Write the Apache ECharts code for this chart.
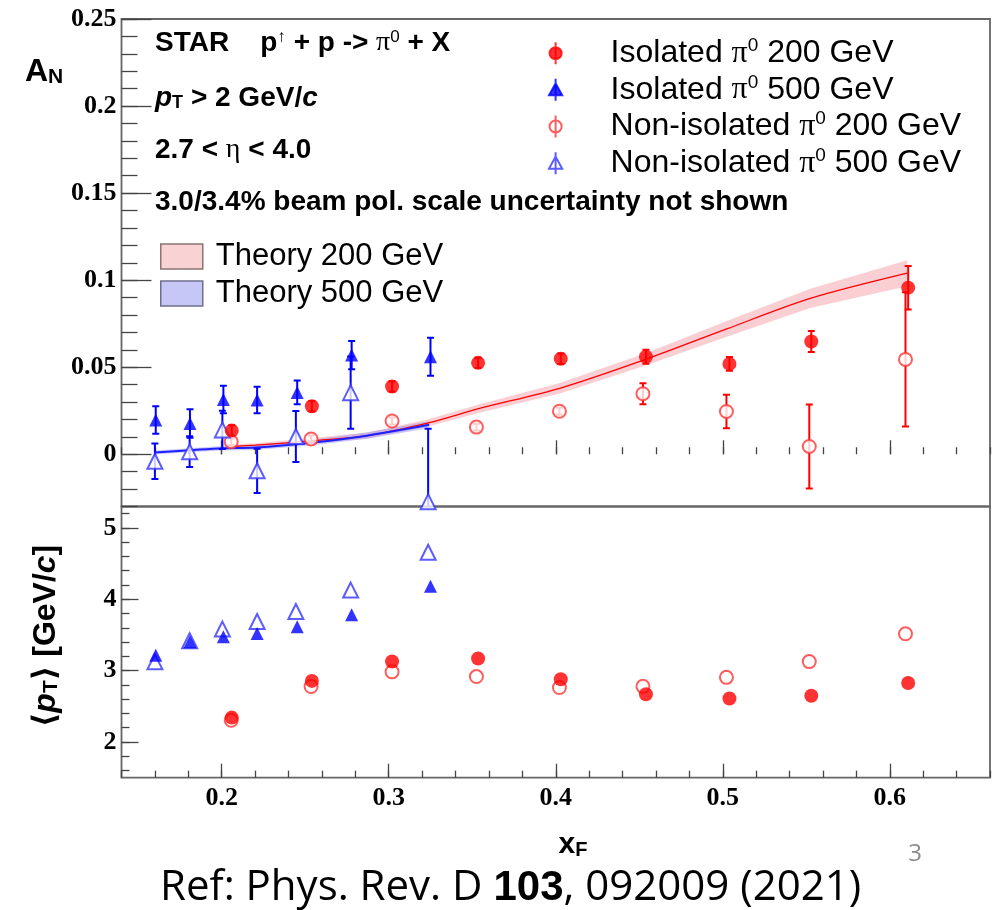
<!DOCTYPE html>
<html>
<head>
<meta charset="utf-8">
<script src="https://cdn.jsdelivr.net/npm/echarts@6/dist/echarts.min.js"></script>
<style>
  html, body { margin: 0; padding: 0; background: #fff; }
  #chart { width: 999px; height: 910px; }
</style>
</head>
<body>
<div id="chart"></div>
<script>
  // values (x_F, A_N, <pT>)
  const iso200X = [0.206, 0.254, 0.302, 0.3535, 0.403, 0.454, 0.504, 0.553, 0.611];
  const iso200A = [0.0136, 0.0276, 0.0389, 0.0525, 0.0549, 0.0560, 0.0519, 0.0648, 0.0957];
  const iso200AErr = [0.003, 0.003, 0.003, 0.003, 0.003, 0.004, 0.004, 0.006, 0.0125];
  const iso200PT = [2.342, 2.856, 3.128, 3.17, 2.88, 2.67, 2.61, 2.648, 2.826];

  const non200X = [0.2057, 0.2535, 0.302, 0.3525, 0.4022, 0.4522, 0.5022, 0.5518, 0.6094];
  const non200A = [0.0072, 0.0088, 0.0191, 0.0156, 0.0247, 0.0348, 0.0246, 0.0045, 0.0545];
  const non200AErr = [0.002, 0.002, 0.002, 0.002, 0.002, 0.006, 0.0096, 0.0241, 0.0385];
  const non200PT = [2.304, 2.777, 2.983, 2.917, 2.763, 2.78, 2.906, 3.127, 3.516];

  const iso500X = [0.1605, 0.181, 0.201, 0.2212, 0.2452, 0.2778, 0.325];
  const iso500A = [0.0197, 0.0177, 0.0315, 0.0312, 0.0355, 0.057, 0.056];
  const iso500AErr = [0.0079, 0.0082, 0.0079, 0.0076, 0.0068, 0.0081, 0.0109];
  const iso500PT = [3.217, 3.404, 3.474, 3.521, 3.614, 3.783, 4.181];

  const non500X = [0.16, 0.1808, 0.2004, 0.2212, 0.2444, 0.2772, 0.3236];
  const non500A = [-0.004, 0.0015, 0.014, -0.0095, 0.0102, 0.0354, -0.0272];
  const non500AErr = [0.0102, 0.0088, 0.011, 0.0127, 0.0146, 0.0208, 0.0418];
  const non500PT = [3.123, 3.418, 3.582, 3.689, 3.829, 4.129, 4.658];

  // theory curves with half width of the band
  const th200X = [0.205, 0.2202, 0.2545, 0.2869, 0.3232, 0.3544, 0.4024, 0.4538, 0.5024, 0.5524, 0.6104];
  const th200A = [0.0045, 0.0052, 0.0078, 0.0107, 0.0179, 0.0263, 0.0379, 0.0545, 0.072, 0.0895, 0.104];
  const th200Err = [0.001, 0.0012, 0.0015, 0.0018, 0.002, 0.0025, 0.003, 0.0035, 0.0045, 0.0055, 0.0075];

  const th500X = [0.16, 0.1808, 0.2004, 0.2202, 0.2545, 0.2869, 0.3242];
  const th500A = [0.001, 0.0023, 0.0035, 0.0039, 0.0068, 0.0107, 0.0169];
  const th500Err = [0.0012, 0.0012, 0.0013, 0.0014, 0.0016, 0.0018, 0.002];

  // tick labels
  const xTickLabels = [0.2, 0.3, 0.4, 0.5, 0.6];
  const anTickLabels = [0, 0.05, 0.1, 0.15, 0.2, 0.25];
  const ptTickLabels = [2, 3, 4, 5];

  const NAME_I200 = 'Isolated π0 200 GeV';
  const NAME_I500 = 'Isolated π0 500 GeV';
  const NAME_N200 = 'Non-isolated π0 200 GeV';
  const NAME_N500 = 'Non-isolated π0 500 GeV';

  const RED = '#ff0000', BLUE = '#0000ff';
  const RED_OPEN = '#ff3535', BLUE_OPEN = '#3535ff';
  const SANS = '"Liberation Sans", "DejaVu Sans", sans-serif';
  const SERIF = '"Liberation Serif", "DejaVu Serif", serif';

  function steps(from, to, step) {
    const out = [];
    for (let v = from; v <= to + 1e-9; v += step) out.push(+v.toFixed(4));
    return out;
  }
  const xMinor = steps(0.14, 0.66, 0.02);
  const anMinor = steps(-0.03, 0.25, 0.01);
  const ptMinor = steps(1.6, 5.2, 0.2);

  function pts(xs, ys) { return xs.map((x, i) => [x, ys[i]]); }

  function errBars(name, xs, ys, es, color) {
    return {
      type: 'custom', name: name, xAxisIndex: 0, yAxisIndex: 0, clip: true, z: 4,
      encode: { x: 0, y: [1, 2] },
      data: xs.map((x, i) => [x, ys[i] - es[i], ys[i] + es[i]]),
      renderItem(params, api) {
        const lo = api.coord([api.value(0), api.value(1)]);
        const hi = api.coord([api.value(0), api.value(2)]);
        const c = 3.5;
        const st = { stroke: color, lineWidth: 2 };
        return {
          type: 'group', children: [
            { type: 'line', shape: { x1: lo[0], y1: lo[1], x2: hi[0], y2: hi[1] }, style: st },
            { type: 'line', shape: { x1: lo[0] - c, y1: lo[1], x2: lo[0] + c, y2: lo[1] }, style: st },
            { type: 'line', shape: { x1: hi[0] - c, y1: hi[1], x2: hi[0] + c, y2: hi[1] }, style: st }
          ]
        };
      }
    };
  }

  // uncertainty band: one polygon through all (x, low) / (x, high) pairs
  function band(name, xs, ys, es, color) {
    return {
      type: 'custom', name: name, xAxisIndex: 0, yAxisIndex: 0, clip: true, z: 1, silent: true,
      encode: { x: 0, y: [1, 2] },
      data: xs.map((x, i) => [x, ys[i] - es[i], ys[i] + es[i]]),
      renderItem(params, api) {
        if (params.dataIndex !== 0) return null;
        const n = params.dataInsideLength;
        const up = [], dn = [];
        for (let i = 0; i < n; i++) {
          up.push(api.coord([api.value(0, i), api.value(2, i)]));
          dn.push(api.coord([api.value(0, i), api.value(1, i)]));
        }
        return { type: 'polygon', shape: { points: up.concat(dn.reverse()) }, style: { fill: color } };
      }
    };
  }

  function richSet(f) {
    return {
      sub: { fontSize: Math.round(f * 0.66), fontWeight: 'bold', fontFamily: SANS, verticalAlign: 'bottom',
             lineHeight: Math.round(f * 0.66), padding: [Math.round(f * 0.55), 0, 0, 0] },
      sup: { fontSize: Math.round(f * 0.6), fontFamily: SANS, verticalAlign: 'top',
             lineHeight: Math.round(f * 0.6), padding: [0, 0, Math.round(f * 0.5), 0] },
      it: { fontStyle: 'italic', fontWeight: 'bold', fontSize: f, fontFamily: SANS },
      pi: { fontFamily: SERIF, fontSize: f, fontWeight: 'normal' },
      b: { fontWeight: 'bold', fontSize: f }
    };
  }

  function label(x, y, text, size, opts) {
    opts = opts || {};
    return {
      type: 'text', x: x, y: y, rotation: opts.rotation || 0, z: 50,
      style: {
        text: text, fill: opts.color || '#000',
        fontFamily: opts.family || SANS, fontSize: size, fontWeight: opts.weight || 'bold',
        align: opts.align || 'left', verticalAlign: 'middle',
        textAlign: opts.align || 'left', textVerticalAlign: 'middle',
        rich: richSet(size)
      }
    };
  }

  const chart = echarts.init(document.getElementById('chart'));

  const frame = { show: true, borderColor: '#666', borderWidth: 1.8, backgroundColor: 'transparent' };
  const tickStyle = { color: '#444', width: 1.3 };

  function xAxisOf(grid, custom, len, labels) {
    return {
      type: 'value', gridIndex: grid, min: 0.14, max: 0.66, position: 'bottom',
      axisLine: { show: false }, splitLine: { show: false },
      axisTick: { show: true, inside: true, length: len, customValues: custom, lineStyle: tickStyle },
      axisLabel: labels ? {
        show: true, customValues: xTickLabels, margin: 8, color: '#000',
        fontFamily: SERIF, fontWeight: 'bold', fontSize: 26
      } : { show: false }
    };
  }
  function yAxisOf(grid, min, max, custom, len, labels) {
    return {
      type: 'value', gridIndex: grid, min: min, max: max, position: 'left',
      axisLine: { show: false }, splitLine: { show: false },
      axisTick: { show: true, inside: true, length: len, customValues: custom, lineStyle: tickStyle },
      axisLabel: labels ? {
        show: true, customValues: labels, margin: 5, color: '#000',
        fontFamily: SERIF, fontWeight: 'bold', fontSize: 26
      } : { show: false }
    };
  }

  const markerIcon = {
    circle: 'path://M6,0V20M11.5,10A5.5,5.5 0 1 1 0.5,10A5.5,5.5 0 1 1 11.5,10Z',
    triangle: 'path://M6,0V20M6,4L12,15H0Z'
  };

  const option = {
    animation: false,
    backgroundColor: '#fff',
    grid: [
      Object.assign({ left: 121.5, top: 19, width: 868.5, height: 487.5 }, frame),
      Object.assign({ left: 121.5, top: 506.5, width: 868.5, height: 271.2 }, frame)
    ],
    xAxis: [
      xAxisOf(0, xTickLabels, 14, false),
      xAxisOf(0, xMinor, 7, false),
      xAxisOf(1, xTickLabels, 14, true),
      xAxisOf(1, xMinor, 7, false)
    ],
    yAxis: [
      yAxisOf(0, -0.03, 0.25, anTickLabels, 30, anTickLabels),
      yAxisOf(0, -0.03, 0.25, anMinor, 16, null),
      yAxisOf(1, 1.5, 5.3, ptTickLabels, 17, ptTickLabels),
      yAxisOf(1, 1.5, 5.3, ptMinor, 8, null)
    ],
    legend: [{
      selectedMode: false, orient: 'vertical', left: 548, top: 36.2, padding: 0,
      itemWidth: 100, itemHeight: 22, itemGap: 2.67, symbolKeepAspect: true,
      textStyle: { fontFamily: SANS, fontSize: 32, color: '#000', lineHeight: 34, rich: {
        pi: { fontFamily: SERIF, fontSize: 32, lineHeight: 34 },
        sup: { fontFamily: SANS, fontSize: 19, lineHeight: 19, verticalAlign: 'top', padding: [0, 0, 15, 0] }
      } },
      formatter: name => name.replace('π0', '{pi|π}{sup|0}'),
      data: [
        { name: NAME_I200, icon: markerIcon.circle, itemStyle: { color: RED, borderColor: RED, borderWidth: 2 } },
        { name: NAME_I500, icon: markerIcon.triangle, itemStyle: { color: BLUE, borderColor: BLUE, borderWidth: 2 } },
        { name: NAME_N200, icon: markerIcon.circle, itemStyle: { color: '#fff', borderColor: RED_OPEN, borderWidth: 2 } },
        { name: NAME_N500, icon: markerIcon.triangle, itemStyle: { color: '#fff', borderColor: BLUE_OPEN, borderWidth: 2 } }
      ]
    }, {
      selectedMode: false, orient: 'vertical', left: 160, top: 241, padding: 0,
      itemWidth: 58, itemHeight: 25, itemGap: 6, symbolKeepAspect: true,
      textStyle: { fontFamily: SANS, fontSize: 31, color: '#000', lineHeight: 31 },
      data: [
        { name: 'Theory 200 GeV', icon: 'path://M0,0H42V25H0Z', itemStyle: { color: '#f9d3d4', borderColor: '#8a7474', borderWidth: 1.5 } },
        { name: 'Theory 500 GeV', icon: 'path://M0,0H42V25H0Z', itemStyle: { color: '#c7c7f7', borderColor: '#6f6f8c', borderWidth: 1.5 } }
      ]
    }],
    graphic: [
      label(155, 43, 'STAR    p{sup|↑} + p -> {pi|π}{sup|0} + X', 28),
      label(155, 98, '{it|p}{sub|T} > 2 GeV/{it|c}', 28),
      label(155, 150, '2.7 < {pi|η} < 4.0', 28),
      label(155, 202, '3.0/3.4% beam pol. scale uncertainty not shown', 28),
      label(25, 72, 'A{sub|N}', 32),
      label(46, 636, '⟨{it|p}{sub|T}⟩ [GeV/{it|c}]', 32, { rotation: Math.PI / 2, align: 'center' }),
      label(573, 845, 'x{sub|F}', 30, { align: 'center' }),
      label(160, 888, 'Ref: Phys. Rev. D {b|103}, 092009 (2021)', 42,
            { family: '"Open Sans", "Noto Sans", sans-serif', weight: 'normal' }),
      label(915, 854, '3', 24, { family: '"Open Sans", sans-serif', weight: 'normal', color: '#8c8c8c', align: 'center' })
    ],
    series: [
      band('Theory 200 GeV', th200X, th200A, th200Err, 'rgba(240,140,150,0.42)'),
      band('Theory 500 GeV', th500X, th500A, th500Err, 'rgba(140,140,240,0.45)'),
      {
        type: 'line', name: 'th200 line', xAxisIndex: 0, yAxisIndex: 0, data: pts(th200X, th200A),
        symbol: 'none', smooth: 0.3, lineStyle: { color: RED, width: 1.3 }, silent: true, z: 2
      },
      {
        type: 'line', name: 'th500 line', xAxisIndex: 0, yAxisIndex: 0, data: pts(th500X, th500A),
        symbol: 'none', smooth: 0.3, lineStyle: { color: '#2020ff', width: 2 }, silent: true, z: 2
      },
      errBars('err i200', iso200X, iso200A, iso200AErr, RED),
      errBars('err n200', non200X, non200A, non200AErr, RED),
      errBars('err i500', iso500X, iso500A, iso500AErr, BLUE),
      errBars('err n500', non500X, non500A, non500AErr, BLUE),
      // A_N panel
      { type: 'scatter', name: NAME_N200, xAxisIndex: 0, yAxisIndex: 0, data: pts(non200X, non200A),
        symbol: 'emptyCircle', symbolSize: 13, itemStyle: { color: RED_OPEN, borderWidth: 2 }, z: 5 },
      { type: 'scatter', name: NAME_N500, xAxisIndex: 0, yAxisIndex: 0, data: pts(non500X, non500A),
        symbol: 'emptyTriangle', symbolSize: 15, itemStyle: { color: BLUE_OPEN, borderWidth: 2 }, z: 5 },
      { type: 'scatter', name: NAME_I200, xAxisIndex: 0, yAxisIndex: 0, data: pts(iso200X, iso200A),
        symbol: 'circle', symbolSize: 14, itemStyle: { color: RED }, z: 6 },
      { type: 'scatter', name: NAME_I500, xAxisIndex: 0, yAxisIndex: 0, data: pts(iso500X, iso500A),
        symbol: 'triangle', symbolSize: 13, itemStyle: { color: BLUE }, z: 6 },
      // <pT> panel
      { type: 'scatter', name: NAME_N200, xAxisIndex: 2, yAxisIndex: 2, data: pts(non200X, non200PT),
        symbol: 'emptyCircle', symbolSize: 13, itemStyle: { color: RED_OPEN, borderWidth: 2 }, z: 5 },
      { type: 'scatter', name: NAME_N500, xAxisIndex: 2, yAxisIndex: 2, data: pts(non500X, non500PT),
        symbol: 'emptyTriangle', symbolSize: 15, itemStyle: { color: BLUE_OPEN, borderWidth: 2 }, z: 5 },
      { type: 'scatter', name: NAME_I200, xAxisIndex: 2, yAxisIndex: 2, data: pts(iso200X, iso200PT),
        symbol: 'circle', symbolSize: 14, itemStyle: { color: RED }, z: 6 },
      { type: 'scatter', name: NAME_I500, xAxisIndex: 2, yAxisIndex: 2, data: pts(iso500X, iso500PT),
        symbol: 'triangle', symbolSize: 13, itemStyle: { color: BLUE }, z: 6 }
    ]
  };

  chart.setOption(option);
</script>
</body>
</html>
